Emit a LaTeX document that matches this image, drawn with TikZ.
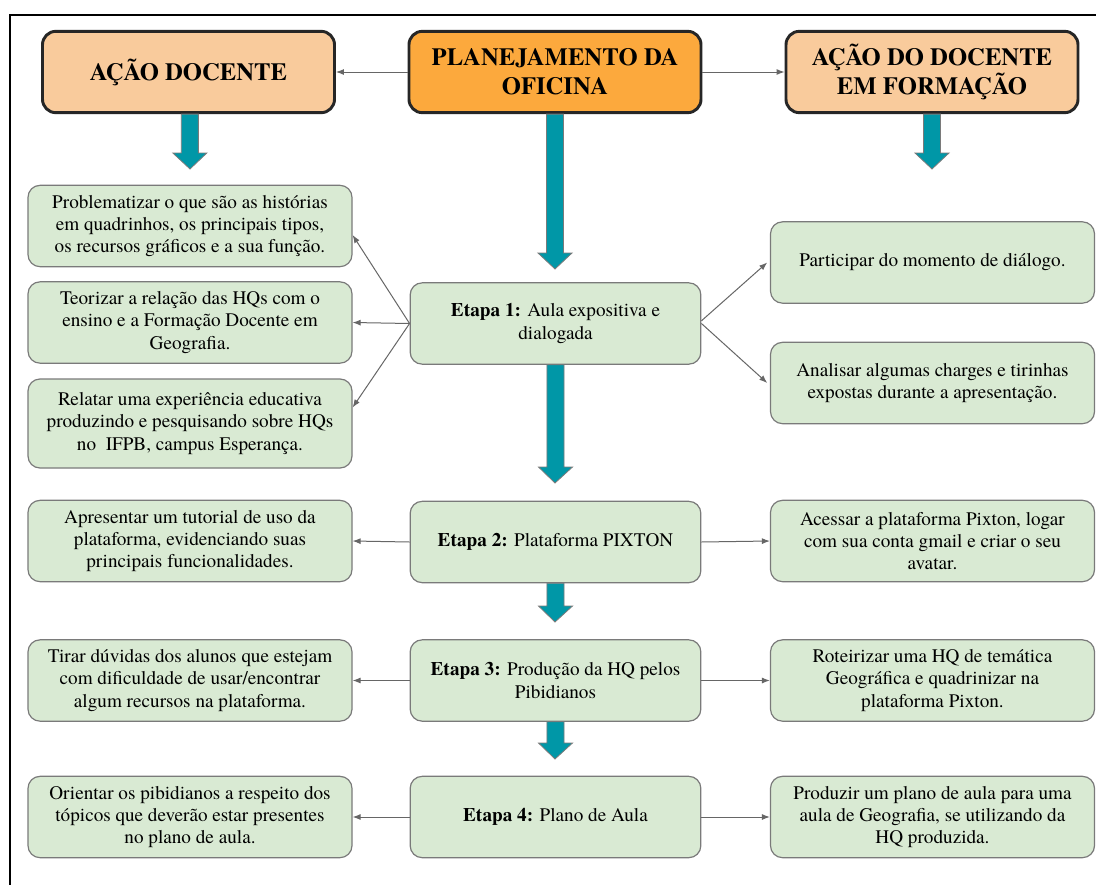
\documentclass[tikz,border=0pt]{standalone}
\usepackage{fontspec}
\setmainfont{texgyretermes}[Extension=.otf,UprightFont=*-regular,BoldFont=*-bold,ItalicFont=*-italic,BoldItalicFont=*-bolditalic]
\usetikzlibrary{arrows.meta,calc}
\definecolor{hdrlight}{HTML}{F9CB9C}
\definecolor{hdrmain}{HTML}{FCA93D}
\definecolor{hdrborder}{HTML}{262626}
\definecolor{boxfill}{HTML}{D9EAD3}
\definecolor{boxborder}{HTML}{7A7A7A}
\definecolor{tealc}{HTML}{0097A7}
\definecolor{linec}{HTML}{666666}
\newcommand\tealarrow[2]{%
  \filldraw[fill=tealc,draw=boxborder,line width=0.6pt]
    let \p1=(#1),\p2=(#2) in
    (\x1-6.4pt,\y1) -- (\x1-6.4pt,\y2+12pt) -- (\x1-12.75pt,\y2+12pt) -- (\x2,\y2)
    -- (\x1+12.75pt,\y2+12pt) -- (\x1+6.4pt,\y2+12pt) -- (\x1+6.4pt,\y1) -- cycle;}
\begin{document}
\begin{tikzpicture}[x=0.75pt,y=-0.75pt,
  hdr/.style={draw=hdrborder,line width=2.2pt,rounded corners=10pt,
    minimum width=219pt,minimum height=61pt,align=center,
    font=\fontsize{18.5}{22}\selectfont\bfseries,inner sep=0pt},
  gbox/.style={draw=boxborder,fill=boxfill,line width=0.9pt,rounded corners=9pt,
    minimum width=243pt,minimum height=61pt,align=center,
    font=\fontsize{14.4}{16.6}\selectfont,inner sep=0pt},
  ebox/.style={gbox,minimum width=218pt},
  conn/.style={draw=linec,line width=0.75pt,-{Latex[length=6pt,width=4.5pt]}}]
\useasboundingbox (0,0) rectangle (1096,885);
\fill[white] (0,0) rectangle (1096,885);
\draw[line width=1.6pt] (10,885) -- (10,15) -- (1096,15);

% headers
\node[hdr,fill=hdrlight] (h1) at (188.5,72) {AÇÃO DOCENTE};
\node[hdr,fill=hdrmain] (h2) at (555,72) {PLANEJAMENTO DA\\OFICINA};
\node[hdr,fill=hdrlight] (h3) at (932,72) {AÇÃO DO DOCENTE\\EM FORMAÇÃO};

% left column
\node[gbox] (l1) at (190,226) {Problematizar o que são as histórias\\em quadrinhos, os principais tipos,\\os recursos gráficos e a sua função.};
\node[gbox] (l2) at (190,322.5) {Teorizar a relação das HQs com o\\ensino e a Formação Docente em\\Geografia.};
\node[gbox,minimum height=66.75pt] (l3) at (190,423.5) {Relatar uma experiência educativa\\produzindo e pesquisando sobre HQs\\no\ \ IFPB, campus Esperança.};
\node[gbox] (l4) at (190,541) {Apresentar um tutorial de uso da\\plataforma, evidenciando suas\\principais funcionalidades.};
\node[gbox] (l5) at (190,680.5) {Tirar dúvidas dos alunos que estejam\\com dificuldade de usar/encontrar\\algum recursos na plataforma.};
\node[gbox] (l6) at (190,817) {Orientar os pibidianos a respeito dos\\tópicos que deverão estar presentes\\no plano de aula.};

% center column
\node[ebox] (e1) at (555.5,323.5) {\textbf{Etapa 1:} Aula expositiva e\\dialogada};
\node[ebox] (e2) at (555.5,542) {\textbf{Etapa 2:} Plataforma PIXTON};
\node[ebox] (e3) at (555.5,680.5) {\textbf{Etapa 3:} Produção da HQ pelos\\Pibidianos};
\node[ebox] (e4) at (555.5,817) {\textbf{Etapa 4:} Plano de Aula};

% right column
\node[gbox] (r1) at (932.5,262.5) {Participar do momento de diálogo.};
\node[gbox] (r2) at (932.5,383) {Analisar algumas charges e tirinhas\\expostas durante a apresentação.};
\node[gbox] (r4) at (932.5,541) {Acessar a plataforma Pixton, logar\\com sua conta gmail e criar o seu\\avatar.};
\node[gbox] (r5) at (932.5,680.5) {Roteirizar uma HQ de temática\\Geográfica e quadrinizar na\\plataforma Pixton.};
\node[gbox] (r6) at (932.5,817) {Produzir um plano de aula para uma\\aula de Geografia, se utilizando da\\HQ produzida.};

% thin connectors
\draw[conn] (h2.west) -- (h1.east);
\draw[conn] (h2.east) -- (h3.west);
\draw[conn] (e1.west) -- ([yshift=-6.75pt]l1.east);
\draw[conn] (e1.west) -- (l2.east);
\draw[conn] (e1.west) -- ([yshift=12pt]l3.east);
\draw[conn] ([yshift=2pt]e1.east) -- ([xshift=-2pt]r1.west);
\draw[conn] (e1.east) -- ([xshift=-2pt]r2.west);
\draw[conn] (e2.west) -- (l4.east);
\draw[conn] (e2.east) -- (r4.west);
\draw[conn] (e3.west) -- (l5.east);
\draw[conn] (e3.east) -- (r5.west);
\draw[conn] (e4.west) -- (l6.east);
\draw[conn] (e4.east) -- (r6.west);

% teal block arrows
\coordinate (t1) at (190,169);
\coordinate (t3) at (932,169);
\coordinate (t2) at (555,269);
\coordinate (te1) at (555,483);
\coordinate (te2) at (555,622);
\coordinate (te3) at (555,759);
\tealarrow{[xshift=1pt]h1.south}{t1}
\tealarrow{h3.south}{t3}
\tealarrow{h2.south}{t2}
\tealarrow{e1.south}{te1}
\tealarrow{e2.south}{te2}
\tealarrow{e3.south}{te3}
\end{tikzpicture}
\end{document}
